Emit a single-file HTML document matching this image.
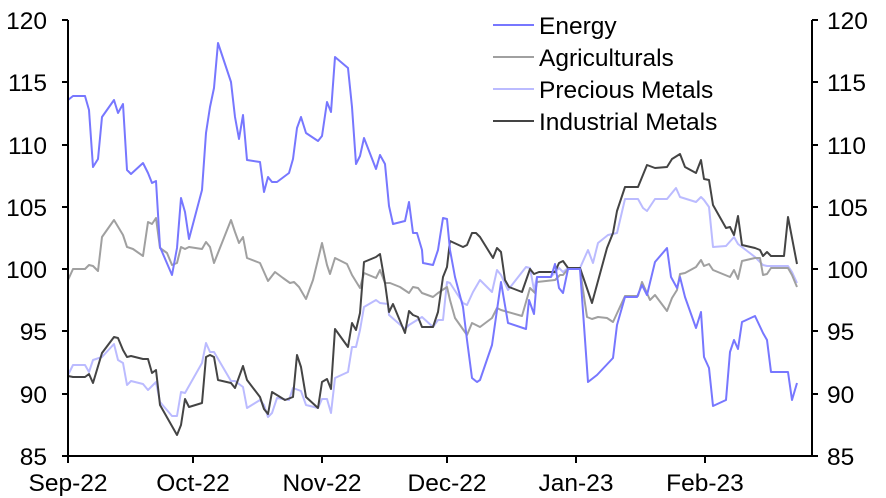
<!DOCTYPE html>
<html><head><meta charset="utf-8"><style>
html,body{margin:0;padding:0;background:#fff;}
svg{display:block;font-family:"Liberation Sans",Arial,sans-serif;}
</style></head><body>
<svg width="886" height="498" viewBox="0 0 886 498">
<g fill="none" stroke-width="2" stroke-linejoin="round">
<polyline stroke="#bbbbff" points="68,375 73,365 85,365 89,372 93,360 102,357 114,344 118,360 123,363 127,385 131,381 143,384 148,390 156,382 160,402 172,416 177,416 181,392 185,393 202,363 206,343 210,352 214,352 231,381 235,381 243,387 247,408 260,400 264,405 268,417 272,413 277,398 289,400 293,388 301,391 306,405 318,408 322,399 327,399 331,413 335,378 348,372 352,347 356,347 360,330 364,307 376,300 380,303 388,304 389,315 405,329 409,325 422,317 433,327 438,320 443,320 447,282 450,283 463,303 467,305 473,292 480,280 492,292 497,270 501,275 508,290 526,267 530,268 534,290 537,277 551,277 559,268 563,272 568,268 580,268 588,250 593,263 598,243 608,235 617,233 625,199 638,199 643,208 647,211 655,199 667,199 676,188 680,197 696,202 701,197 704,200 709,207 713,247 726,246 734,237 738,244 755,257 763,265 767,266 788,266 792,272 797,283"/>
<polyline stroke="#a0a0a0" points="68,280 73,269 85,269 89,265 93,266 98,271 102,237 114,220 123,235 127,247 133,249 143,256 148,222 152,224 156,218 160,248 167,253 172,265 177,263 181,247 185,249 189,247 202,249 206,242 210,247 214,263 231,220 235,232 239,243 243,237 247,258 260,263 268,281 275,272 283,278 290,283 294,282 299,287 306,299 313,280 322,243 327,265 330,274 335,258 347,264 352,275 360,288 364,273 376,278 380,270 385,283 390,283 400,287 409,293 413,287 418,288 422,293 433,297 438,293 447,287 450,300 455,318 467,335 472,323 480,327 492,318 497,308 501,310 522,316 530,288 535,293 537,282 555,280 560,275 563,275 568,269 580,269 587,317 592,319 598,317 607,318 613,322 625,296 638,296 642,282 650,300 655,295 667,311 672,298 677,290 680,274 685,273 696,267 701,260 704,266 709,264 713,270 730,277 734,270 738,279 742,261 755,258 760,258 763,275 767,274 771,268 788,268 792,275 797,287"/>
<polyline stroke="#444444" points="68,376 73,377 85,377 89,374 93,383 102,353 114,337 118,338 123,350 127,357 131,356 143,359 148,359 152,373 156,370 160,405 177,435 181,425 185,399 189,407 202,403 206,357 210,355 214,357 218,380 231,383 235,388 243,366 247,380 260,397 264,409 268,414 272,392 285,400 293,397 297,355 301,367 306,397 318,408 322,382 327,379 331,389 335,329 348,347 352,323 356,330 360,313 364,262 376,257 380,254 385,283 389,312 393,304 405,333 409,311 413,315 418,317 422,327 433,327 438,312 443,277 447,267 450,241 463,247 467,245 472,233 476,233 480,237 493,258 497,248 501,252 505,280 509,287 522,292 530,269 534,274 539,272 555,272 559,263 563,261 568,268 580,268 592,303 607,248 613,233 617,211 625,187 638,187 647,165 655,168 667,167 672,159 680,154 685,167 696,173 701,160 704,179 709,180 713,205 726,228 730,227 734,235 738,216 742,245 755,248 760,250 763,256 767,252 771,256 784,256 788,217 797,264"/>
<polyline stroke="#7777ff" points="68,100 73,96 85,96 89,110 93,167 98,159 102,117 114,100 118,113 123,104 127,170 131,174 143,163 148,173 152,183 156,181 160,247 172,275 177,248 181,198 185,212 189,239 202,190 206,133 210,107 214,88 218,43 231,82 235,117 239,139 243,115 247,160 260,162 264,192 268,177 272,182 277,182 289,173 293,159 297,128 301,117 306,133 318,141 322,136 327,102 331,112 335,57 348,68 352,107 356,164 360,156 364,138 376,169 380,155 385,164 389,206 393,224 405,221 409,202 413,233 417,233 422,250 423,263 433,265 438,250 440,237 443,218 447,219 450,250 455,277 463,307 467,340 472,378 477,382 480,380 492,345 501,282 508,323 526,329 529,300 534,314 537,277 551,277 555,264 559,288 563,293 568,269 580,269 588,382 597,375 613,358 617,325 625,297 637,297 642,285 647,295 655,262 667,248 671,277 677,288 680,277 685,297 696,328 701,312 704,357 709,368 713,406 726,400 730,352 734,340 738,349 742,322 755,316 763,333 767,340 771,372 788,372 792,400 797,383"/>
</g>
<g stroke="#000" stroke-width="2" fill="none">
<path d="M68,20 V456 H812 V20"/>
<path d="M62,20H68M62,82H68M62,145H68M62,207H68M62,269H68M62,331H68M62,394H68M62,456H68"/>
<path d="M812,20H818M812,82H818M812,145H818M812,207H818M812,269H818M812,331H818M812,394H818M812,456H818"/>
<path d="M68,456V463M193,456V463M322,456V463M447,456V463M576,456V463M705,456V463"/>
</g>
<g font-size="24.5" fill="#000">
<g text-anchor="end">
<text x="47" y="29">120</text><text x="47" y="91">115</text><text x="47" y="154">110</text><text x="47" y="216">105</text><text x="47" y="278">100</text><text x="47" y="340">95</text><text x="47" y="403">90</text><text x="47" y="465">85</text>
</g>
<g text-anchor="start">
<text x="827" y="29">120</text><text x="827" y="91">115</text><text x="827" y="154">110</text><text x="827" y="216">105</text><text x="827" y="278">100</text><text x="827" y="340">95</text><text x="827" y="403">90</text><text x="827" y="465">85</text>
</g>
<g text-anchor="middle">
<text x="68" y="491">Sep-22</text><text x="193" y="491">Oct-22</text><text x="322" y="491">Nov-22</text><text x="447" y="491">Dec-22</text><text x="576" y="491">Jan-23</text><text x="705" y="491">Feb-23</text>
</g>
<g stroke-width="2">
<line x1="493" y1="25" x2="534" y2="25" stroke="#7777ff"/>
<line x1="493" y1="57" x2="534" y2="57" stroke="#a0a0a0"/>
<line x1="493" y1="89" x2="534" y2="89" stroke="#bbbbff"/>
<line x1="493" y1="121" x2="534" y2="121" stroke="#444444"/>
</g>
<text x="539" y="34">Energy</text>
<text x="539" y="66">Agriculturals</text>
<text x="539" y="98">Precious Metals</text>
<text x="539" y="130">Industrial Metals</text>
</g>
</svg>
</body></html>
